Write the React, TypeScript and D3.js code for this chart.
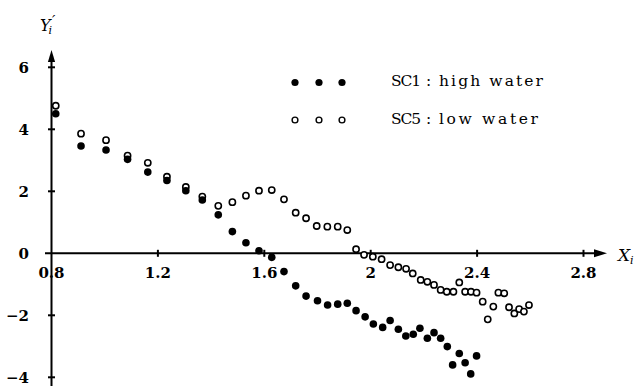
import React, { useRef, useEffect } from "react";
import * as d3 from "d3";

// tick positions / labels
const xTicks = [0.8, 1.2, 1.6, 2, 2.4, 2.8];
const xTickLabels = ["0.8", "1.2", "1.6", "2", "2.4", "2.8"];
const yTicks = [-4, -2, 0, 2, 4, 6];
const yTickLabels = ["\u22124", "\u22122", "0", "2", "4", "6"];

// SC1 : high water (filled dots)
const sc1X = [
  0.816, 0.911, 1.005, 1.086, 1.162, 1.234, 1.305, 1.367, 1.427, 1.48, 1.531, 1.58, 1.628,
  1.674, 1.718, 1.757, 1.8, 1.838, 1.876, 1.912, 1.945, 1.979, 2.01, 2.045, 2.073, 2.104,
  2.132, 2.16, 2.185, 2.213, 2.238, 2.263, 2.288, 2.308, 2.333, 2.355, 2.376, 2.398,
];
const sc1Y = [
  4.5, 3.46, 3.33, 3.03, 2.62, 2.35, 2.02, 1.72, 1.24, 0.7, 0.34, 0.08, -0.13,
  -0.59, -1.05, -1.38, -1.53, -1.67, -1.64, -1.61, -1.85, -2.05, -2.28, -2.39, -2.17, -2.45,
  -2.67, -2.61, -2.42, -2.74, -2.56, -2.74, -3.01, -3.6, -3.23, -3.53, -3.89, -3.31,
];

// SC5 : low water (open circles)
const sc5X = [
  0.816, 0.911, 1.005, 1.086, 1.162, 1.234, 1.305, 1.367, 1.427, 1.48, 1.531, 1.58, 1.628,
  1.674, 1.718, 1.757, 1.797, 1.837, 1.876, 1.912, 1.945, 1.975, 2.008, 2.041, 2.073, 2.104,
  2.133, 2.158, 2.188, 2.213, 2.238, 2.263, 2.286, 2.311, 2.333, 2.355, 2.377, 2.398, 2.421,
  2.44, 2.461, 2.48, 2.502, 2.52, 2.54, 2.558, 2.576, 2.595,
];
const sc5Y = [
  4.76, 3.86, 3.65, 3.15, 2.92, 2.47, 2.14, 1.83, 1.53, 1.65, 1.86, 2.02, 2.04,
  1.74, 1.31, 1.13, 0.88, 0.86, 0.86, 0.75, 0.13, -0.05, -0.11, -0.19, -0.38, -0.45,
  -0.5, -0.65, -0.86, -0.92, -1.02, -1.18, -1.24, -1.24, -0.94, -1.24, -1.24, -1.27, -1.56,
  -2.13, -1.72, -1.27, -1.29, -1.74, -1.94, -1.8, -1.88, -1.67,
];

const legendNames = ["SC1", "SC5"];
const legendDescs = ["high water", "low water"];

export default function App() {
  const ref = useRef<SVGSVGElement>(null);

  useEffect(() => {
    if (!ref.current) return;
    const svg = d3.select(ref.current);
    svg.selectAll("*").remove();

    const x = d3.scaleLinear().domain([0.8, 2.8]).range([51.5, 583.5]);
    const y = d3.scaleLinear().domain([-4, 6]).range([377.3, 67.3]);
    const x0 = x(0.8);
    const y0 = y(0);
    const ink = "#000";
    const font = "'DejaVu Serif', serif";

    // axes with arrow heads
    svg.append("line")
      .attr("x1", x0).attr("x2", x0).attr("y1", 386).attr("y2", 58)
      .attr("stroke", ink).attr("stroke-width", 2);
    svg.append("path")
      .attr("d", `M${x0},50 L${x0 - 3.6},62 L${x0 + 3.6},62 Z`)
      .attr("fill", ink);
    svg.append("line")
      .attr("x1", 45).attr("x2", 598).attr("y1", y0).attr("y2", y0)
      .attr("stroke", ink).attr("stroke-width", 2);
    svg.append("path")
      .attr("d", `M607,${y0} L594,${y0 - 4} L594,${y0 + 4} Z`)
      .attr("fill", ink);

    // tick marks
    svg.selectAll("line.xt")
      .data(xTicks.slice(1))
      .enter().append("line")
      .attr("x1", (d) => x(d)).attr("x2", (d) => x(d))
      .attr("y1", y0 - 3.5).attr("y2", y0 + 3.5)
      .attr("stroke", ink).attr("stroke-width", 2);
    svg.selectAll("line.yt")
      .data(yTicks.filter((d) => d !== 0))
      .enter().append("line")
      .attr("x1", x0 - 3.5).attr("x2", x0 + 3.5)
      .attr("y1", (d) => y(d)).attr("y2", (d) => y(d))
      .attr("stroke", ink).attr("stroke-width", 2);

    // tick labels
    svg.selectAll("text.xl")
      .data(xTicks)
      .enter().append("text")
      .attr("x", (d) => x(d))
      .attr("y", y0 + 25)
      .attr("text-anchor", "middle")
      .attr("font-family", font)
      .attr("font-weight", "bold")
      .attr("font-size", 15)
      .attr("fill", ink)
      .text((_d, i) => xTickLabels[i]);
    svg.selectAll("text.yl")
      .data(yTicks)
      .enter().append("text")
      .attr("x", 29)
      .attr("y", (d) => y(d) + 5.5)
      .attr("text-anchor", "end")
      .attr("font-family", font)
      .attr("font-weight", "bold")
      .attr("font-size", 15)
      .attr("fill", ink)
      .text((_d, i) => yTickLabels[i]);

    // axis titles
    const yt = svg.append("text")
      .attr("x", 40).attr("y", 31)
      .attr("font-family", font)
      .attr("font-style", "italic")
      .attr("font-size", 16)
      .attr("fill", ink);
    yt.append("tspan").text("Y");
    yt.append("tspan").attr("font-size", 11).attr("dy", 3).attr("dx", -2).text("i");
    yt.append("tspan").attr("font-size", 15).attr("dy", -8).attr("dx", 0).text("\u2032");

    const xt = svg.append("text")
      .attr("x", 618).attr("y", 261)
      .attr("font-family", font)
      .attr("font-style", "italic")
      .attr("font-size", 17)
      .attr("fill", ink);
    xt.append("tspan").text("X");
    xt.append("tspan").attr("font-size", 11).attr("dy", 3).text("i");

    // data
    const sc1 = sc1X.map((v, i) => [v, sc1Y[i]]);
    const sc5 = sc5X.map((v, i) => [v, sc5Y[i]]);

    svg.selectAll("circle.sc5")
      .data(sc5)
      .enter().append("circle")
      .attr("cx", (d) => x(d[0]))
      .attr("cy", (d) => y(d[1]))
      .attr("r", 3.1)
      .attr("fill", "#fff")
      .attr("stroke", ink)
      .attr("stroke-width", 1.6);

    svg.selectAll("circle.sc1")
      .data(sc1)
      .enter().append("circle")
      .attr("cx", (d) => x(d[0]))
      .attr("cy", (d) => y(d[1]))
      .attr("r", 3.8)
      .attr("fill", ink);

    // legend
    const lx = [295, 319, 342];
    const ly = [86, 123.5];
    svg.selectAll("circle.lg1")
      .data(lx)
      .enter().append("circle")
      .attr("cx", (d) => d).attr("cy", 82.5).attr("r", 3.6).attr("fill", ink);
    svg.selectAll("circle.lg5")
      .data(lx)
      .enter().append("circle")
      .attr("cx", (d) => d).attr("cy", 120).attr("r", 2.9)
      .attr("fill", "#fff").attr("stroke", ink).attr("stroke-width", 1.4);

    const descLen = [104, 99];
    legendNames.forEach((name, i) => {
      const g = svg.append("g")
        .attr("font-family", font)
        .attr("font-size", 15.5)
        .attr("fill", ink);
      g.append("text").attr("x", 391).attr("y", ly[i])
        .attr("textLength", 30).attr("lengthAdjust", "spacing").text(name);
      g.append("text").attr("x", 426).attr("y", ly[i]).text(":");
      g.append("text")
        .attr("x", 439).attr("y", ly[i])
        .attr("textLength", descLen[i])
        .attr("lengthAdjust", "spacing")
        .text(legendDescs[i]);
    });
  }, []);

  return (
    <svg
      ref={ref}
      width={638}
      height={386}
      style={{ position: "absolute", left: 0, top: 0, background: "#fff" }}
    />
  );
}
